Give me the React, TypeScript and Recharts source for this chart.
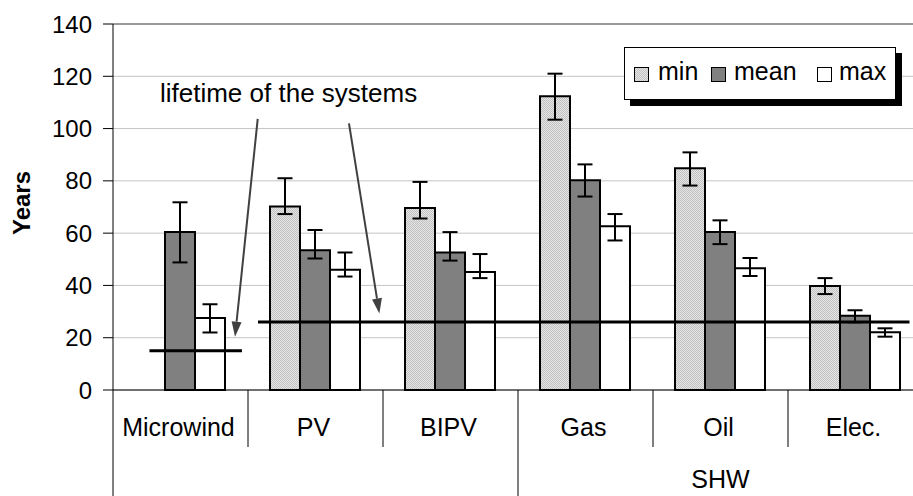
import React from 'react';
import {
  BarChart, Bar, XAxis, YAxis, CartesianGrid, ErrorBar, ReferenceLine, ReferenceDot, Legend,
} from 'recharts';

// ---- data ----
const categories = ['Microwind', 'PV', 'BIPV', 'Gas', 'Oil', 'Elec.'];
const groupNames = ['', 'SHW'];
const groupStarts = [0, 3];
const groupSpans = [3, 3];

const minValues = [0, 70.2, 69.6, 112.4, 84.8, 39.8];
const minLow = [0, 67.3, 65.6, 103.4, 78.2, 36.7];
const minHigh = [0, 81, 79.6, 121, 90.9, 42.8];

const meanValues = [60.4, 53.5, 52.6, 80.2, 60.4, 28.4];
const meanLow = [48.8, 50.3, 49.5, 74, 55.8, 25.9];
const meanHigh = [71.8, 61.2, 60.4, 86.3, 64.9, 30.5];

const maxValues = [27.5, 46, 45.1, 62.6, 46.6, 22.1];
const maxLow = [22, 43.4, 42.8, 57.2, 43.6, 20.4];
const maxHigh = [32.8, 52.6, 52, 67.3, 50.5, 23.6];

const yTicks = [0, 20, 40, 60, 80, 100, 120, 140];

// lifetime lines: [xStart, xEnd, years] in category units (0..6)
const lifetimeLines = [
  [0.27, 0.955, 15],
  [1.074, 5.9, 26],
];
// arrows: [xFrom, yFrom, xTo, yTo] in category units / years
const arrows = [
  [1.072, 103.7, 0.904, 20.4],
  [1.748, 102.0, 1.973, 29.3],
];
const annotationText = 'lifetime of the systems';
const annotationPos = [0.348, 110.3];

const seriesKeys = ['min', 'mean', 'max'];
const seriesFills = ['url(#stipple)', '#808080', '#ffffff'];

const data = categories.map((name, i) => ({
  name,
  pos: i + 0.5,
  min: minValues[i],
  minErr: [minValues[i] - minLow[i], minHigh[i] - minValues[i]],
  mean: meanValues[i],
  meanErr: [meanValues[i] - meanLow[i], meanHigh[i] - meanValues[i]],
  max: maxValues[i],
  maxErr: [maxValues[i] - maxLow[i], maxHigh[i] - maxValues[i]],
}));

// ---- layout ----
const FONT = '"Liberation Sans", Arial, Helvetica, sans-serif';
const CHART_W = 940;
const CHART_H = 496;
const MARGIN = { top: 24, right: 17, bottom: 0, left: 0 };
const Y_W = 113;
const X_H = 106;
const PLOT_BOTTOM = CHART_H - X_H - MARGIN.bottom;
const BAND = (CHART_W - MARGIN.right - MARGIN.left - Y_W) / categories.length;

const CategoryTick = (props: any) => {
  const { x, payload } = props;
  const i = payload.index;
  const left = x - BAND / 2;
  const gi = groupStarts.indexOf(i);
  const out: any[] = [];
  out.push(
    <line key="d" x1={left} x2={left} y1={PLOT_BOTTOM} y2={gi >= 0 ? CHART_H : PLOT_BOTTOM + 57} stroke="#000" strokeWidth={1} />
  );
  if (i === categories.length - 1) {
    out.push(<line key="r" x1={x + BAND / 2} x2={x + BAND / 2} y1={PLOT_BOTTOM} y2={CHART_H} stroke="#000" strokeWidth={1} />);
  }
  out.push(
    <text key="t" x={x - 2} y={PLOT_BOTTOM + 46} textAnchor="middle" fontSize={25} fill="#000" fontFamily={FONT}>
      {payload.value}
    </text>
  );
  if (gi >= 0 && groupNames[gi]) {
    out.push(
      <text key="g" x={x + ((groupSpans[gi] - 1) / 2) * BAND} y={PLOT_BOTTOM + 98} textAnchor="middle" fontSize={25} fill="#000" fontFamily={FONT}>
        {groupNames[gi]}
      </text>
    );
  }
  return <g>{out}</g>;
};

const ArrowShape = (props: any) => {
  const { x1, y1, x2, y2 } = props;
  const dx = x2 - x1;
  const dy = y2 - y1;
  const len = Math.sqrt(dx * dx + dy * dy) || 1;
  const ux = dx / len;
  const uy = dy / len;
  const hl = 15;
  const hw = 5;
  const bx = x2 - ux * hl;
  const by = y2 - uy * hl;
  const px = -uy * hw;
  const py = ux * hw;
  return (
    <g>
      <line x1={x1} y1={y1} x2={bx} y2={by} stroke="#404040" strokeWidth={2} />
      <polygon points={`${x2},${y2} ${bx + px},${by + py} ${bx - px},${by - py}`} fill="#404040" />
    </g>
  );
};

const legendSwatchLeft = [9, 86, 192];
const legendTextLeft = [33, 109, 214];

const LegendContent = () => {
  return (
    <div
      style={{
        position: 'relative',
        width: 272,
        height: 53,
        border: '1px solid #000',
        background: '#fff',
        boxShadow: '6px 6px 0 #000',
        boxSizing: 'border-box',
        fontFamily: FONT,
        fontSize: 25,
        color: '#000',
      }}
    >
      {seriesKeys.map((name, i) => (
        <React.Fragment key={name}>
          <svg
            width={15}
            height={15}
            style={{ position: 'absolute', left: legendSwatchLeft[i], top: 19 }}
          >
            <rect x={0.5} y={0.5} width={14} height={14} fill={seriesFills[i]} stroke="#000" strokeWidth={1} />
          </svg>
          <span style={{ position: 'absolute', left: legendTextLeft[i], top: 8, lineHeight: '30px', whiteSpace: 'nowrap' }}>
            {name}
          </span>
        </React.Fragment>
      ))}
    </div>
  );
};

export default function App() {
  return (
    <div style={{ position: 'absolute', left: 0, top: 0, width: 913, height: 496, overflow: 'hidden', background: '#fff' }}>
      <svg width={0} height={0} style={{ position: 'absolute' }}>
        <defs>
          <pattern id="stipple" width={2} height={2} patternUnits="userSpaceOnUse">
            <rect width={2} height={2} fill="#e4e4e4" />
            <rect x={0} y={0} width={1} height={1} fill="#c2c2c2" />
            <rect x={1} y={1} width={1} height={1} fill="#c2c2c2" />
          </pattern>
        </defs>
      </svg>
      <BarChart
        width={CHART_W}
        height={CHART_H}
        data={data}
        margin={MARGIN}
        barCategoryGap={22}
        barGap={0}
        style={{ fontFamily: FONT }}
      >
        <CartesianGrid vertical={false} stroke="#c4c4c4" strokeWidth={1} />
        <XAxis
          dataKey="name"
          height={X_H}
          interval={0}
          tickLine={false}
          axisLine={{ stroke: '#000', strokeWidth: 1 }}
          tick={<CategoryTick />}
        />
        <XAxis
          xAxisId="num"
          dataKey="pos"
          type="number"
          domain={[0, categories.length]}
          hide
          allowDataOverflow
        />
        <YAxis
          width={Y_W}
          domain={[0, 140]}
          ticks={yTicks}
          interval={0}
          tickSize={10}
          tickMargin={11}
          tickLine={{ stroke: '#000' }}
          axisLine={{ stroke: '#000', strokeWidth: 1 }}
          tick={{ fontSize: 24, fill: '#000', fontFamily: FONT }}
          label={() => (
            <text
              x={30}
              y={203}
              transform="rotate(-90, 30, 203)"
              textAnchor="middle"
              fontSize={24}
              fontWeight="bold"
              fill="#000"
              fontFamily={FONT}
            >
              Years
            </text>
          )}
        />
        <ReferenceLine y={140} stroke="#9a9a9a" strokeWidth={2} />
        {seriesKeys.map((k, i) => (
          <Bar key={k} dataKey={k} name={k} fill={seriesFills[i]} stroke="#000" strokeWidth={2} isAnimationActive={false}>
            <ErrorBar dataKey={k + 'Err'} width={7.5} stroke="#000" strokeWidth={2} direction="y" />
          </Bar>
        ))}
        {lifetimeLines.map((l, i) => (
          <ReferenceLine
            key={'lt' + i}
            xAxisId="num"
            segment={[{ x: l[0], y: l[2] }, { x: l[1], y: l[2] }]}
            stroke="#000"
            strokeWidth={3}
            ifOverflow="visible"
          />
        ))}
        {arrows.map((a, i) => (
          <ReferenceLine
            key={'ar' + i}
            xAxisId="num"
            segment={[{ x: a[0], y: a[1] }, { x: a[2], y: a[3] }]}
            shape={ArrowShape}
            ifOverflow="visible"
          />
        ))}
        <ReferenceDot
          xAxisId="num"
          x={annotationPos[0]}
          y={annotationPos[1]}
          ifOverflow="visible"
          shape={(p: any) => (
            <text x={p.cx} y={p.cy} fontSize={26} fill="#000" fontFamily={FONT} textAnchor="start">
              {annotationText}
            </text>
          )}
        />
        <Legend
          layout="horizontal"
          verticalAlign="middle"
          align="center"
          content={<LegendContent />}
          wrapperStyle={{ position: 'absolute', left: 624, top: 47, width: 278, height: 59 }}
        />
      </BarChart>
    </div>
  );
}
